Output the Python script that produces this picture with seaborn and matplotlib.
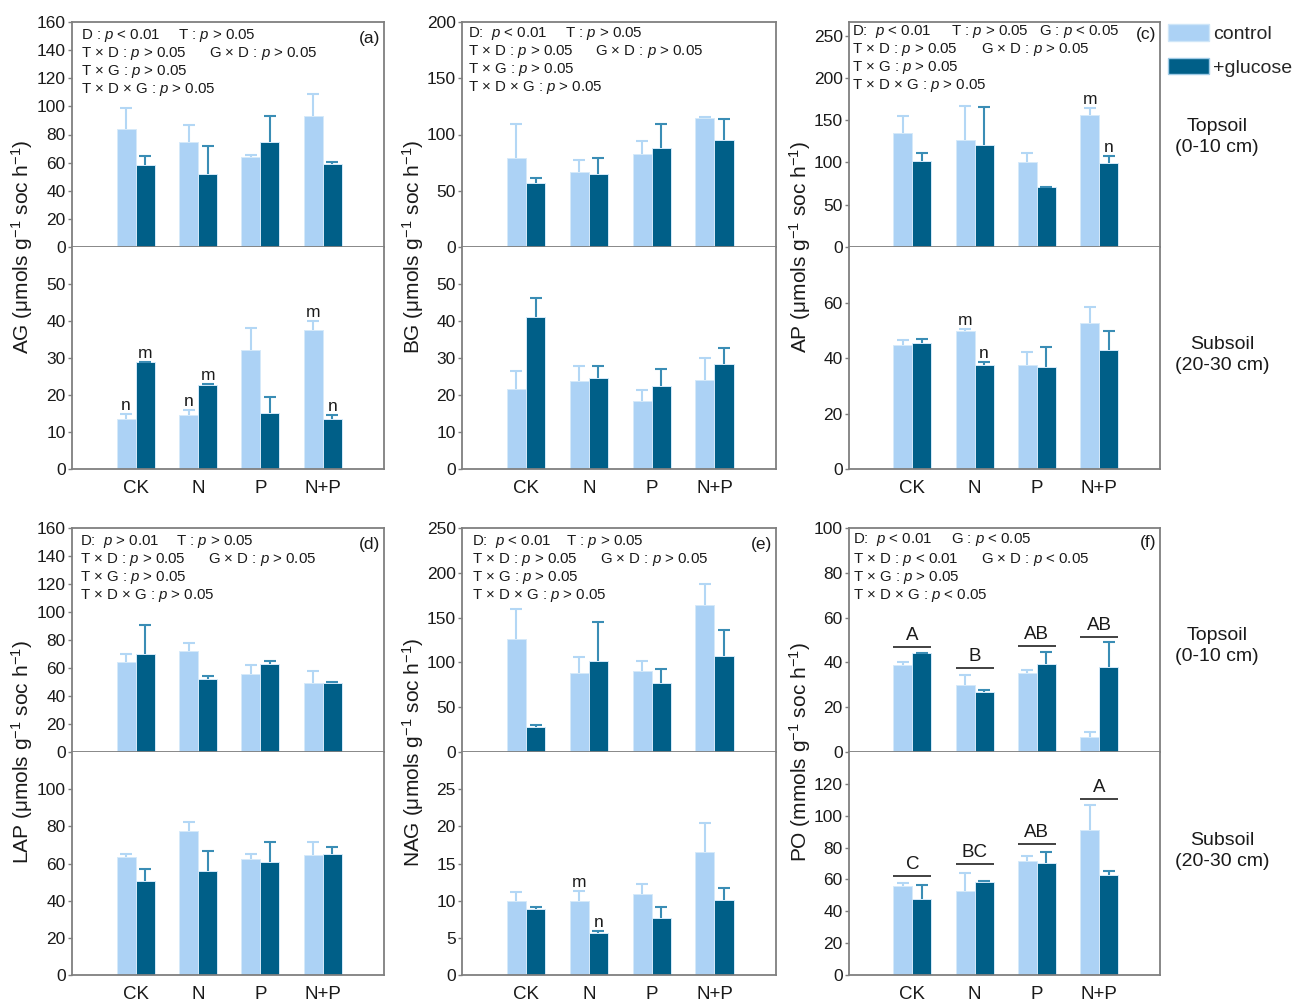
import matplotlib
matplotlib.use("Agg")
import matplotlib.pyplot as plt
from matplotlib.patches import Patch
import seaborn as sns
import pandas as pd

sns.set_style("ticks")
plt.rcParams['font.family'] = ['Liberation Sans', 'DejaVu Sans']
plt.rcParams['mathtext.fontset'] = 'custom'
plt.rcParams['mathtext.rm'] = 'Liberation Sans'
plt.rcParams['mathtext.it'] = 'Liberation Sans:italic'
plt.rcParams['mathtext.bf'] = 'Liberation Sans:bold'

# ---------------- data ----------------
categories = ["CK", "N", "P", "N+P"]
groups = ["control", "+glucose"]

# AG
ag_top_ctrl = [84, 75, 64, 93];        ag_top_ctrl_se = [15, 12, 1.3, 16]
ag_top_gluc = [58, 52, 75, 59];        ag_top_gluc_se = [7, 19.5, 18, 1.3]
ag_sub_ctrl = [13.4, 14.7, 32.1, 37.6]; ag_sub_ctrl_se = [1.4, 1.3, 5.9, 2.5]
ag_sub_gluc = [28.8, 22.7, 15.2, 13.6]; ag_sub_gluc_se = [0.15, 0.15, 4.2, 1.1]
# BG
bg_top_ctrl = [79, 67, 83, 115];       bg_top_ctrl_se = [30, 10, 11, 1]
bg_top_gluc = [57, 65, 88, 95];        bg_top_gluc_se = [4, 14.5, 21, 19]
bg_sub_ctrl = [21.5, 23.8, 18.5, 24.1]; bg_sub_ctrl_se = [4.9, 4.0, 2.8, 5.9]
bg_sub_gluc = [41.1, 24.6, 22.4, 28.5]; bg_sub_gluc_se = [5.2, 3.2, 4.6, 4.1]
# AP
ap_top_ctrl = [135, 127, 100, 156];    ap_top_ctrl_se = [20, 40, 11, 8]
ap_top_gluc = [102, 120, 71, 99];      ap_top_gluc_se = [9, 45, 0.5, 8]
ap_sub_ctrl = [44.6, 49.7, 37.6, 52.6]; ap_sub_ctrl_se = [1.8, 0.7, 4.7, 5.8]
ap_sub_gluc = [45.3, 37.6, 36.8, 42.8]; ap_sub_gluc_se = [1.7, 0.8, 7.0, 7.0]
# LAP
lap_top_ctrl = [64.4, 72.0, 55.9, 49.5]; lap_top_ctrl_se = [5.7, 6.2, 5.9, 8.3]
lap_top_gluc = [69.9, 52.3, 62.8, 49.2]; lap_top_gluc_se = [20.9, 1.9, 2.3, 1.0]
lap_sub_ctrl = [63.3, 77.6, 62.6, 64.4]; lap_sub_ctrl_se = [1.8, 4.7, 2.3, 7.0]
lap_sub_gluc = [50.6, 55.8, 60.8, 65.3]; lap_sub_gluc_se = [6.6, 10.7, 10.8, 3.4]
# NAG
nag_top_ctrl = [126.5, 88.5, 90.4, 163.7]; nag_top_ctrl_se = [33, 17.5, 11.2, 23.4]
nag_top_gluc = [28.3, 101.9, 76.6, 107.5]; nag_top_gluc_se = [1.5, 42.8, 16.4, 28.7]
nag_sub_ctrl = [10.0, 9.9, 10.9, 16.6];    nag_sub_ctrl_se = [1.1, 1.4, 1.4, 3.9]
nag_sub_gluc = [8.9, 5.6, 7.7, 10.1];      nag_sub_gluc_se = [0.3, 0.3, 1.4, 1.6]
# PO
po_top_ctrl = [38.8, 29.9, 35.4, 6.8];  po_top_ctrl_se = [1.2, 4.4, 1.0, 2.1]
po_top_gluc = [44.0, 26.7, 39.4, 38.0]; po_top_gluc_se = [0.2, 1.1, 5.3, 11.0]
po_sub_ctrl = [56.1, 53.0, 71.4, 91.3]; po_sub_ctrl_se = [1.5, 11.1, 3.6, 15.5]
po_sub_gluc = [48.0, 58.6, 70.6, 63.0]; po_sub_gluc_se = [8.5, 0.7, 6.9, 2.3]
po_top_groups = ["A", "B", "AB", "AB"]; po_top_group_y = [46.8, 37.4, 47.3, 51.3]
po_sub_groups = ["C", "BC", "AB", "A"]; po_sub_group_y = [62.4, 69.5, 82.3, 110.2]

# letters: (half, hue index, category index, letter)
ag_letters = [("sub", 0, 0, "n"), ("sub", 1, 0, "m"), ("sub", 0, 1, "n"), ("sub", 1, 1, "m"),
              ("sub", 0, 3, "m"), ("sub", 1, 3, "n")]
ap_letters = [("top", 0, 3, "m"), ("top", 1, 3, "n"), ("sub", 0, 1, "m"), ("sub", 1, 1, "n")]
nag_letters = [("sub", 0, 1, "m"), ("sub", 1, 1, "n")]

stats_a = [["D : $p$ < 0.01", "T : $p$ > 0.05"], ["T × D : $p$ > 0.05", "G × D : $p$ > 0.05"],
           ["T × G : $p$ > 0.05"], ["T × D × G : $p$ > 0.05"]]
stats_b = [["D:  $p$ < 0.01", "T : $p$ > 0.05"], ["T × D : $p$ > 0.05", "G × D : $p$ > 0.05"],
           ["T × G : $p$ > 0.05"], ["T × D × G : $p$ > 0.05"]]
stats_c = [["D:  $p$ < 0.01", "T : $p$ > 0.05", "G : $p$ < 0.05"], ["T × D : $p$ > 0.05", "G × D : $p$ > 0.05"],
           ["T × G : $p$ > 0.05"], ["T × D × G : $p$ > 0.05"]]
stats_d = [["D:  $p$ > 0.01", "T : $p$ > 0.05"], ["T × D : $p$ > 0.05", "G × D : $p$ > 0.05"],
           ["T × G : $p$ > 0.05"], ["T × D × G : $p$ > 0.05"]]
stats_e = [["D:  $p$ < 0.01", "T : $p$ > 0.05"], ["T × D : $p$ > 0.05", "G × D : $p$ > 0.05"],
           ["T × G : $p$ > 0.05"], ["T × D × G : $p$ > 0.05"]]
stats_f = [["D:  $p$ < 0.01", "G : $p$ < 0.05"], ["T × D : $p$ < 0.01", "G × D : $p$ < 0.05"],
           ["T × G : $p$ > 0.05"], ["T × D × G : $p$ < 0.05"]]

# ---------------- style ----------------
LIGHT = "#acd2f5"
DARK = "#005f88"
ERR_LIGHT = "#b3d7f5"
ERR_DARK = "#3a8db5"
SPINE = "#7f7f7f"
TXT = "#1a1a1a"

W, H = 1293, 1006
fig = plt.figure(figsize=(W / 100, H / 100), dpi=100)


def add_ax(left, top, width, height):
    return fig.add_axes([left / W, 1 - (top + height) / H, width / W, height / H])


def draw_half(ax, ctrl, ctrl_se, gluc, gluc_se, ylim, yticks, is_top):
    df = pd.DataFrame({"trt": categories * 2,
                       "grp": [groups[0]] * 4 + [groups[1]] * 4,
                       "val": list(ctrl) + list(gluc)})
    sns.barplot(data=df, x="trt", y="val", hue="grp", order=categories, hue_order=groups,
                palette=[LIGHT, DARK], saturation=1, width=0.61, errorbar=None,
                legend=False, ax=ax, edgecolor="#d6eafa", linewidth=0.7)
    for cont, se, ecol in zip(ax.containers, [ctrl_se, gluc_se], [ERR_LIGHT, ERR_DARK]):
        for bar, s in zip(cont, se):
            x = bar.get_x() + bar.get_width() / 2
            h = bar.get_height()
            ax.vlines(x, h, h + s, color=ecol, lw=1.5, zorder=3)
            ax.plot([x], [h + s], marker="_", ms=8.5, mew=1.5, color=ecol, zorder=3)
    ax.set_xlim(-1.02, 3.98)
    ax.set_ylim(*ylim)
    ax.set_yticks(yticks)
    ax.set_xlabel("")
    ax.set_ylabel("")
    for sp in ax.spines.values():
        sp.set_color(SPINE)
        sp.set_linewidth(1.3)
    ax.tick_params(axis="y", length=3, width=1, color=SPINE, pad=1.5, labelsize=12.5, labelcolor=TXT)
    if is_top:
        ax.tick_params(axis="x", length=0, labelbottom=False)
    else:
        ax.spines["top"].set_visible(False)
        ax.tick_params(axis="x", length=0, pad=8, labelsize=13.5, labelcolor=TXT)


def letter(ax, hue_i, cat_i, txt, se):
    bar = ax.containers[hue_i][cat_i]
    x = bar.get_x() + bar.get_width() / 2
    y = bar.get_height() + se
    ax.annotate(txt, xy=(x, y), xytext=(0, 4), textcoords="offset pixels",
                ha="center", va="baseline", fontsize=12.5, color=TXT)


def group_letters(ax, labels, ys):
    for i, (lab, y) in enumerate(zip(labels, ys)):
        ax.hlines(y, i - 0.305, i + 0.305, color="#333333", lw=1.3, zorder=4)
        ax.annotate(lab, xy=(i, y), xytext=(0, 3), textcoords="offset pixels",
                    ha="center", va="bottom", fontsize=13.5, color=TXT)


def stats_text(ax, lines, xoffs, yoffs):
    for line, xo_line, yo in zip(lines, xoffs, yoffs):
        for part, xo in zip(line, xo_line):
            ax.annotate(part, xy=(0, 1), xycoords="axes fraction", xytext=(xo, -yo),
                        textcoords="offset pixels", ha="left", va="center",
                        fontsize=10.8, color=TXT)


def panel_label(ax, lab, yo):
    ax.annotate(lab, xy=(1, 1), xycoords="axes fraction", xytext=(-4, -yo),
                textcoords="offset pixels", ha="right", va="center", fontsize=12.5, color=TXT)


col_left = [72, 462, 849]
col_w = [312, 314, 311]
rows = [(22, 225, 222), (528, 224, 223)]


def offs(x0, xt, xgd, xg=None):
    first = (x0, xt) if xg is None else (x0, xt, xg)
    return [first, (x0, xgd), (x0,), (x0,)]


panels = [
    dict(row=0, col=0, name="AG", unit="μmols",
         top=(ag_top_ctrl, ag_top_ctrl_se, ag_top_gluc, ag_top_gluc_se, (0, 160), range(0, 161, 20)),
         sub=(ag_sub_ctrl, ag_sub_ctrl_se, ag_sub_gluc, ag_sub_gluc_se, (0, 60), range(0, 51, 10)),
         stats=stats_a, xo=offs(9, 106, 137), yo=(14, 32, 50, 68), lab="(a)", letters=ag_letters),
    dict(row=0, col=1, name="BG", unit="μmols",
         top=(bg_top_ctrl, bg_top_ctrl_se, bg_top_gluc, bg_top_gluc_se, (0, 200), range(0, 201, 50)),
         sub=(bg_sub_ctrl, bg_sub_ctrl_se, bg_sub_gluc, bg_sub_gluc_se, (0, 60), range(0, 51, 10)),
         stats=stats_b, xo=offs(6, 103, 133), yo=(11, 29, 47, 65), lab=None, letters=[]),
    dict(row=0, col=2, name="AP", unit="μmols",
         top=(ap_top_ctrl, ap_top_ctrl_se, ap_top_gluc, ap_top_gluc_se, (0, 266), range(0, 251, 50)),
         sub=(ap_sub_ctrl, ap_sub_ctrl_se, ap_sub_gluc, ap_sub_gluc_se, (0, 80), range(0, 61, 20)),
         stats=stats_c, xo=offs(3, 102, 132, 190), yo=(10, 28, 46, 64), lab="(c)", letters=ap_letters),
    dict(row=1, col=0, name="LAP", unit="μmols",
         top=(lap_top_ctrl, lap_top_ctrl_se, lap_top_gluc, lap_top_gluc_se, (0, 160), range(0, 161, 20)),
         sub=(lap_sub_ctrl, lap_sub_ctrl_se, lap_sub_gluc, lap_sub_gluc_se, (0, 120), range(0, 101, 20)),
         stats=stats_d, xo=offs(8, 104, 136), yo=(14, 32, 50, 68), lab="(d)", letters=[]),
    dict(row=1, col=1, name="NAG", unit="μmols",
         top=(nag_top_ctrl, nag_top_ctrl_se, nag_top_gluc, nag_top_gluc_se, (0, 250), range(0, 251, 50)),
         sub=(nag_sub_ctrl, nag_sub_ctrl_se, nag_sub_gluc, nag_sub_gluc_se, (0, 30), range(0, 26, 5)),
         stats=stats_e, xo=offs(10, 104, 138), yo=(14, 32, 50, 68), lab="(e)", letters=nag_letters),
    dict(row=1, col=2, name="PO", unit="mmols",
         top=(po_top_ctrl, po_top_ctrl_se, po_top_gluc, po_top_gluc_se, (0, 100), range(0, 101, 20)),
         sub=(po_sub_ctrl, po_sub_ctrl_se, po_sub_gluc, po_sub_gluc_se, (0, 140), range(0, 121, 20)),
         stats=stats_f, xo=offs(4, 102, 132), yo=(12, 31, 49, 67), lab="(f)", letters=[]),
]

ylabel_x = [22, 413, 800]

for p in panels:
    top_y, h_top, h_sub = rows[p["row"]]
    left, width = col_left[p["col"]], col_w[p["col"]]
    ax_t = add_ax(left, top_y, width, h_top)
    ax_b = add_ax(left, top_y + h_top, width, h_sub)
    c, cs, g, gs, yl, yt = p["top"]
    draw_half(ax_t, c, cs, g, gs, yl, yt, True)
    c2, cs2, g2, gs2, yl2, yt2 = p["sub"]
    draw_half(ax_b, c2, cs2, g2, gs2, yl2, yt2, False)
    stats_text(ax_t, p["stats"], p["xo"], p["yo"])
    if p["lab"]:
        panel_label(ax_t, p["lab"], p["yo"][0] + 2)
    for half, hi, ci, txt in p["letters"]:
        ax = ax_t if half == "top" else ax_b
        src = p["top"] if half == "top" else p["sub"]
        se = (src[1] if hi == 0 else src[3])[ci]
        letter(ax, hi, ci, txt, se)
    if p["name"] == "PO":
        group_letters(ax_t, po_top_groups, po_top_group_y)
        group_letters(ax_b, po_sub_groups, po_sub_group_y)
    fig.text(ylabel_x[p["col"]] / W, 1 - (top_y + h_top) / H,
             p["name"] + " (" + p["unit"] + " g$^{-1}$ soc h$^{-1}$)",
             rotation=90, ha="center", va="center", fontsize=15, color=TXT)

# depth labels
for (x, y, s) in [(1217, 137, "Topsoil\n(0-10 cm)"), (1222, 355, "Subsoil\n(20-30 cm)"),
                  (1217, 646, "Topsoil\n(0-10 cm)"), (1222, 851, "Subsoil\n(20-30 cm)")]:
    fig.text(x / W, 1 - y / H, s, ha="center", va="center", multialignment="center",
             fontsize=14, color=TXT, linespacing=1.3)

fig.legend(handles=[Patch(facecolor=LIGHT, edgecolor="#cfe6f8", label="control"),
                    Patch(facecolor=DARK, edgecolor="#9fcbe6", label="+glucose")],
           loc="upper left", bbox_to_anchor=(1168 / W, 1 - 24 / H), frameon=False,
           fontsize=14, handlelength=2.1, handleheight=0.95, handletextpad=0.2,
           labelspacing=0.75, borderpad=0, borderaxespad=0)

fig.savefig("out.png", dpi=100)
